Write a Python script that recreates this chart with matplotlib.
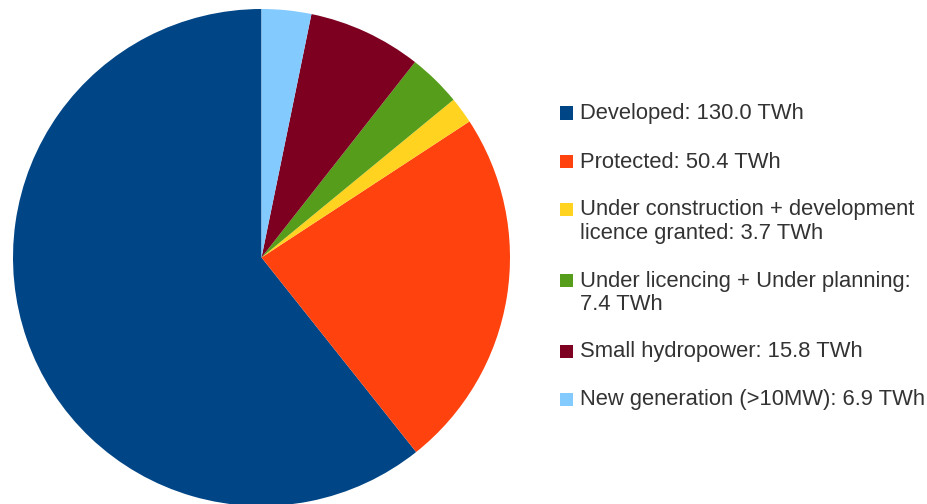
import matplotlib.pyplot as plt
from matplotlib.patches import Rectangle

# data
labels = ['Developed: 130.0 TWh',
          'Protected: 50.4 TWh',
          'Under construction + development\nlicence granted: 3.7 TWh',
          'Under licencing + Under planning:\n7.4 TWh',
          'Small hydropower: 15.8 TWh',
          'New generation (>10MW): 6.9 TWh']
values = [130.0, 50.4, 3.7, 7.4, 15.8, 6.9]
colors = ['#004586', '#ff420e', '#ffd320', '#579d1c', '#7e0021', '#83caff']

W, H = 928, 504
fig = plt.figure(figsize=(W / 100, H / 100), dpi=100)
plt.rcParams['font.family'] = ['Liberation Sans', 'DejaVu Sans']

# pie centre (261.5, 257.5) px, radius 248.5 px
cx, cy, r = 261.5, 257.5, 248.5
ax = fig.add_axes([(cx - r) / W, (H - cy - r) / H, 2 * r / W, 2 * r / H])
ax.pie(values, colors=colors, startangle=90, counterclock=True, radius=1,
       wedgeprops={'linewidth': 0})
ax.set_xlim(-1, 1)
ax.set_ylim(-1, 1)
ax.axis('off')

# legend drawn by hand: square + text, pixel positions
fontsize = 15.8
line_gap = 23      # px between lines of one entry
entry_gap = 48     # px between entries
sq = 13
text_x = 580
sq_x = 560
baseline = 119.5
for label, color in zip(labels, colors):
    lines = label.split('\n')
    fig.add_artist(Rectangle((sq_x / W, (H - baseline) / H), sq / W, sq / H,
                             transform=fig.transFigure, facecolor=color,
                             edgecolor='none'))
    for i, line in enumerate(lines):
        fig.text(text_x / W, (H - baseline - i * line_gap) / H, line,
                 fontsize=fontsize, color='#333333', va='baseline', ha='left')
    baseline += entry_gap + line_gap * (len(lines) - 1)

fig.savefig('out.png', dpi=100)
